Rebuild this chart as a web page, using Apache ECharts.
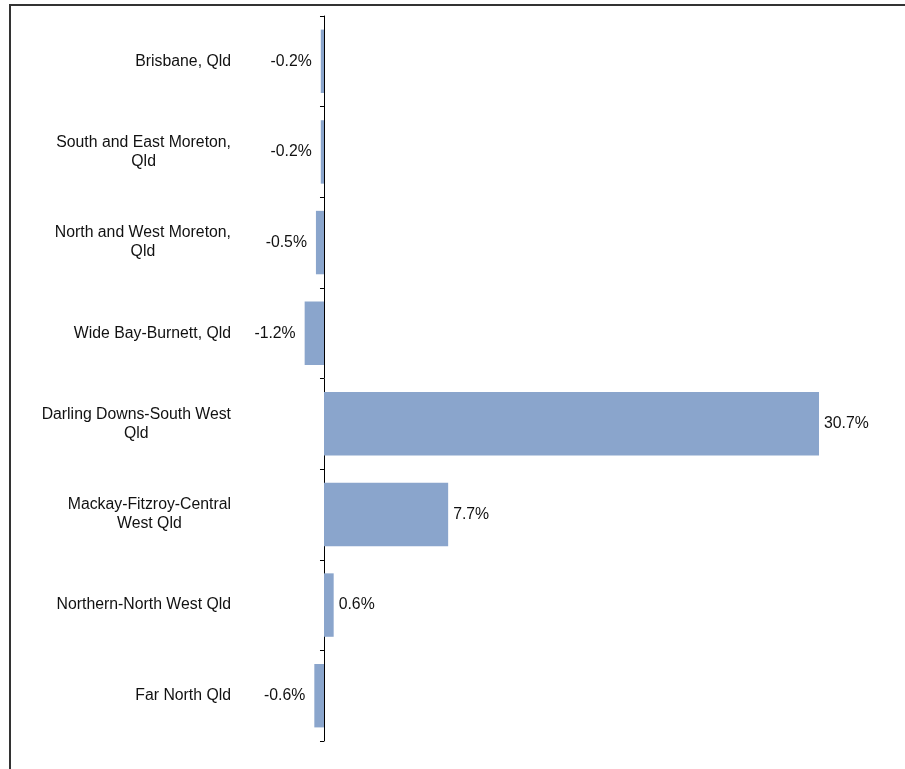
<!DOCTYPE html>
<html>
<head>
<meta charset="utf-8">
<script src="https://cdn.jsdelivr.net/npm/echarts@6/dist/echarts.min.js"></script>
<style>
html,body{margin:0;padding:0;background:#fff;}
#chart{width:905px;height:769px;}
</style>
</head>
<body>
<div id="chart"></div>
<script>
var categories = [
  'Brisbane, Qld',
  'South and East Moreton,\nQld',
  'North and West Moreton,\nQld',
  'Wide Bay-Burnett, Qld',
  'Darling Downs-South West\nQld',
  'Mackay-Fitzroy-Central\nWest Qld',
  'Northern-North West Qld',
  'Far North Qld'
];
var values = [-0.2, -0.2, -0.5, -1.2, 30.7, 7.7, 0.6, -0.6];

var FONT = '"Liberation Sans", Arial, sans-serif';
var FS = 15.8;
var TXT = '#111111';

var chart = echarts.init(document.getElementById('chart'), null, {renderer: 'canvas'});

var seriesData = values.map(function (v) {
  return {
    value: v,
    label: {
      position: v < 0 ? 'left' : 'right',
      distance: v < 0 ? 9 : 5
    }
  };
});

chart.setOption({
  animation: false,
  backgroundColor: '#ffffff',
  graphic: [{
    type: 'rect',
    shape: {x: 10, y: 5, width: 910, height: 790},
    style: {fill: 'none', stroke: '#333333', lineWidth: 2},
    silent: true
  }],
  grid: {left: 291.75, right: 16.65, top: 16, bottom: 28, containLabel: false},
  xAxis: {
    type: 'value',
    min: -2,
    max: 35,
    show: false,
    splitLine: {show: false}
  },
  yAxis: {
    type: 'category',
    data: categories,
    inverse: true,
    axisLine: {show: true, onZero: true, lineStyle: {color: '#000000', width: 1}},
    axisTick: {show: true, length: 4, inside: false, lineStyle: {color: '#000000', width: 1}},
    axisLabel: {
      margin: 60.75,
      color: TXT,
      fontFamily: FONT,
      fontSize: FS,
      lineHeight: 19,
      formatter: function (val) {
        return val.split('\n').map(function (l) { return '{c|' + l + '}'; }).join('\n');
      },
      rich: {
        c: {align: 'center', color: TXT, fontFamily: FONT, fontSize: FS, lineHeight: 19}
      }
    },
    splitLine: {show: false}
  },
  series: [{
    type: 'bar',
    data: seriesData,
    barCategoryGap: '30%',
    itemStyle: {color: '#8aa5cc'},
    label: {
      show: true,
      color: TXT,
      fontFamily: FONT,
      fontSize: FS,
      formatter: function (p) { return p.value.toFixed(1) + '%'; }
    }
  }]
});
</script>
</body>
</html>
